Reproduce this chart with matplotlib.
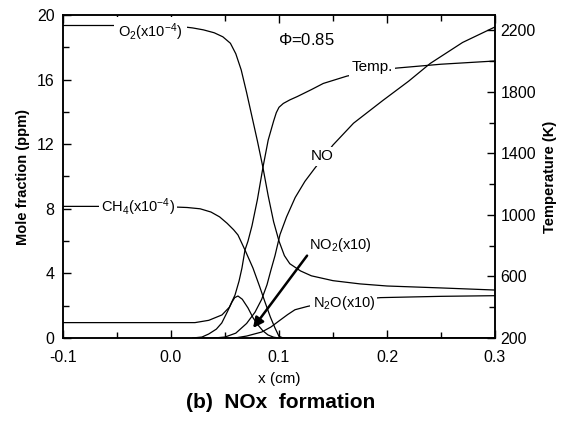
import matplotlib
matplotlib.use("Agg")
import matplotlib.pyplot as plt

plt.rcParams['font.family'] = ['Liberation Sans', 'DejaVu Sans']
plt.rcParams['mathtext.fontset'] = 'custom'
plt.rcParams['mathtext.rm'] = 'Liberation Sans'

# ---- data (x in cm) ----
o2_x = [-0.1, -0.05, 0.0, 0.01, 0.02, 0.03, 0.04, 0.048, 0.055, 0.06, 0.065, 0.07, 0.075,
        0.08, 0.085, 0.09, 0.095, 0.1, 0.105, 0.11, 0.12, 0.13, 0.15, 0.175, 0.2, 0.25, 0.3]
o2_y = [19.35, 19.35, 19.33, 19.28, 19.2, 19.08, 18.9, 18.65, 18.25, 17.6, 16.6, 15.2, 13.7,
        12.2, 10.6, 8.8, 7.2, 6.0, 5.1, 4.6, 4.15, 3.85, 3.55, 3.35, 3.22, 3.1, 2.97]

ch4_x = [-0.1, -0.05, -0.02, 0.0, 0.015, 0.027, 0.037, 0.045, 0.052, 0.058, 0.062, 0.0685,
         0.0759, 0.082, 0.087, 0.092, 0.0963, 0.1, 0.104, 0.3]
ch4_y = [8.15, 8.15, 8.15, 8.12, 8.08, 8.0, 7.8, 7.5, 7.1, 6.7, 6.38, 5.45,
         4.33, 3.2, 2.23, 1.3, 0.62, 0.1, 0.0, 0.0]

no_x = [0.03, 0.04, 0.05, 0.06, 0.07, 0.0778, 0.084, 0.0889, 0.0925, 0.0963, 0.1009, 0.107,
        0.115, 0.124, 0.133, 0.15, 0.169, 0.196, 0.22, 0.24, 0.27, 0.3]
no_y = [0.0, 0.0, 0.06, 0.3, 0.9, 1.6, 2.4, 3.3, 4.2, 5.1, 6.4, 7.5,
        8.7, 9.7, 10.5, 11.95, 13.3, 14.7, 15.9, 17.0, 18.3, 19.26]

no2_x = [0.02, 0.0287, 0.035, 0.042, 0.047, 0.052, 0.0565, 0.059, 0.062, 0.066, 0.0713,
         0.076, 0.0806, 0.085, 0.0898, 0.095, 0.1, 0.3]
no2_y = [0.0, 0.06, 0.25, 0.55, 0.93, 1.6, 2.23, 2.5, 2.6, 2.4, 1.86,
         1.25, 0.8, 0.45, 0.19, 0.05, 0.0, 0.0]

n2o_x = [0.04, 0.059, 0.07, 0.084, 0.0925, 0.1009, 0.108, 0.1148, 0.126, 0.14, 0.16, 0.194,
         0.25, 0.3]
n2o_y = [0.0, 0.0, 0.12, 0.37, 0.68, 1.1, 1.45, 1.75, 1.95, 2.15, 2.3, 2.5,
         2.58, 2.62]

temp_x = [-0.1, -0.05, 0.0, 0.0222, 0.035, 0.0472, 0.054, 0.0593, 0.063, 0.0657, 0.0685,
          0.0713, 0.075, 0.08, 0.0852, 0.09, 0.095, 0.0975, 0.1, 0.104, 0.11, 0.117, 0.13,
          0.141, 0.163, 0.186, 0.209, 0.25, 0.3]
temp_y = [300, 300, 300, 300, 315, 350, 400, 480, 570, 655, 772,
          830, 930, 1100, 1312, 1487, 1610, 1665, 1700, 1725, 1748, 1770, 1815,
          1855, 1903, 1935, 1955, 1980, 2001]

x_ticks = [-0.1, 0.0, 0.1, 0.2, 0.3]
x_ticklabels = ['-0.1', '0.0', '0.1', '0.2', '0.3']
y_ticks = [0, 4, 8, 12, 16, 20]
t_ticks = [200, 600, 1000, 1400, 1800, 2200]

fig = plt.figure(figsize=(5.71, 4.22), dpi=100)
ax = fig.add_axes([63/571, 1-338/422, (495-63)/571, (338-15)/422])
ax2 = ax.twinx()

lw = 0.9
ax.plot(o2_x, o2_y, color='black', lw=lw)
ax.plot(ch4_x, ch4_y, color='black', lw=lw)
ax.plot(no_x, no_y, color='black', lw=lw)
ax.plot(no2_x, no2_y, color='black', lw=lw)
ax.plot(n2o_x, n2o_y, color='black', lw=lw)
ax2.plot(temp_x, temp_y, color='black', lw=lw)

ax.set_xlim(-0.1, 0.3)
ax.set_ylim(0, 20)
ax2.set_ylim(200, 2300)

ax.set_xticks(x_ticks)
ax.set_xticklabels(x_ticklabels)
ax.set_xticks([-0.05, 0.05, 0.15, 0.25], minor=True)
ax.set_yticks(y_ticks)
ax.set_yticks([2, 6, 10, 14, 18], minor=True)
ax2.set_yticks(t_ticks)
ax2.set_yticks([400, 800, 1200, 1600, 2000], minor=True)

ax.tick_params(axis='both', which='both', direction='in', top=True, labelsize=11.5)
ax.tick_params(axis='x', which='major', length=6, width=1, pad=9)
ax.tick_params(axis='x', which='minor', length=4, width=1)
ax.tick_params(axis='y', which='major', length=6, width=1, pad=6)
ax.tick_params(axis='y', which='minor', length=4, width=1)
ax2.tick_params(axis='y', which='both', direction='in', labelsize=11.5, pad=4)
ax2.tick_params(axis='y', which='major', length=6, width=1)
ax2.tick_params(axis='y', which='minor', length=4, width=1)
for a in (ax, ax2):
    for s in a.spines.values():
        s.set_linewidth(1.1)

ax.set_ylabel('Mole fraction (ppm)', fontsize=10.5, fontweight='bold', labelpad=5)
ax2.set_ylabel('Temperature (K)', fontsize=10.5, fontweight='bold', labelpad=5)
ax.set_xlabel('x (cm)', fontsize=11, labelpad=5)

bb = dict(boxstyle='square,pad=0.15', facecolor='white', edgecolor='none')
tf = ax.transData
fs = 10.5
ax2.text(-0.019, 18.95, r'$\mathregular{O_2(x10^{-4})}$', transform=tf, fontsize=fs,
         ha='center', va='center', bbox=dict(boxstyle='square,pad=0.3', facecolor='white', edgecolor='none'))
ax2.text(-0.0306, 8.1, r'$\mathregular{CH_4(x10^{-4})}$', transform=tf, fontsize=fs,
         ha='center', va='center', bbox=bb)
ax2.text(0.125, 18.45, r'$\mathregular{\Phi}$=0.85', transform=tf, fontsize=12,
         ha='center', va='center')
ax2.text(0.186, 16.75, 'Temp.', transform=tf, fontsize=11, ha='center', va='center', bbox=bb)
ax2.text(0.140, 11.24, 'NO', transform=tf, fontsize=11, ha='center', va='center', bbox=bb)
ax2.text(0.1565, 5.76, r'$\mathregular{NO_2(x10)}$', transform=tf, fontsize=fs,
         ha='center', va='center', bbox=bb)
ax2.text(0.160, 2.17, r'$\mathregular{N_2O(x10)}$', transform=tf, fontsize=fs,
         ha='center', va='center', bbox=bb)
ax2.annotate('', xy=(0.076, 0.62), xytext=(0.126, 5.1), xycoords=tf, textcoords=tf,
             arrowprops=dict(arrowstyle='-|>,head_length=0.6,head_width=0.3',
                             color='black', lw=1.8, shrinkA=0, shrinkB=0))

fig.text(281/571, 1-403/422, '(b)  NOx  formation', fontsize=15, fontweight='bold',
         ha='center', va='center')

fig.savefig('out.png', dpi=100)
